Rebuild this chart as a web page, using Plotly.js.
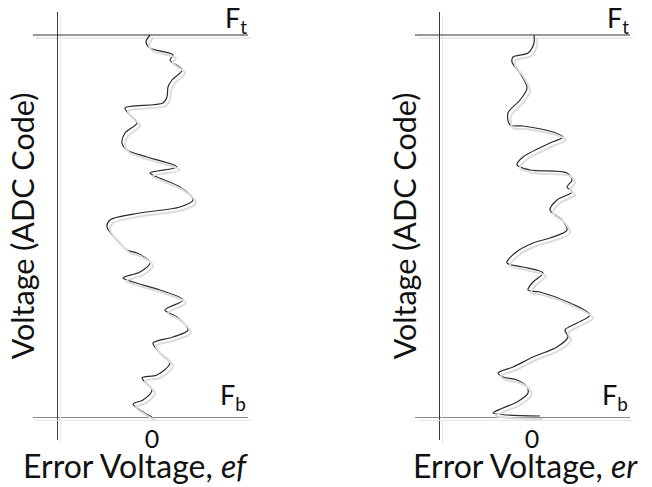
<!DOCTYPE html>
<html>
<head>
<meta charset="utf-8">
<script src="https://cdn.plot.ly/plotly-3.0.1.min.js"></script>
<style>html,body{margin:0;padding:0;background:#fff;}#chart{width:652px;height:487px;}</style>
</head>
<body>
<div id="chart"></div>
<script>
// Voltage as ADC code (0 = Fb, 382 = Ft) and error voltage (arbitrary units, 0 at centre)
const FB = 0;
const FT = 382;
const voltageEf = [382,375,369,362,357,347,337,330,320,314,309,302,294,284,274,267,260,250,244,240,230,217,210,204,197,190,177,167,164,154,145,139,135,127,117,107,100,87,80,74,64,54,42,39,27,17,13,5,0];
const errorEf   = [-2,-6,-2,21,18,30,20,16,15,11,-27,-22,-15,-27,-30,-25,-5,25,-2,5,28,41,28,-12,-42,-45,-35,-25,-15,-2,-12,-29,-19,8,31,13,25,36,21,1,8,18,5,-10,0,-9,-19,-9,0];
const voltageEr = [382,374,364,360,355,344,329,317,304,292,291,285,280,274,260,252,247,244,237,230,225,217,207,197,187,179,174,164,154,150,144,135,127,125,114,102,94,87,80,70,60,50,44,40,37,30,24,15,9,4,2,1];
const errorEr   = [2,2,-4,-19,-20,-12,-5,-12,-24,-22,-9,21,31,18,-9,-15,-2,35,40,35,40,25,18,30,35,18,1,-17,-25,-9,11,1,-4,8,38,58,45,33,36,25,1,-19,-34,-29,-15,-5,-4,-15,-29,-39,-25,8];
const zeroTick = [0];
const zeroTickLabel = ['0'];
const yTitle = 'Voltage (ADC Code)';
const xTitleEf = 'Error Voltage, <i>ef</i>';
const xTitleEr = 'Error Voltage, <i>er</i>';
const ftLabel = 'F<sub>t</sub>';
const fbLabel = 'F<sub>b</sub>';

const W = 652, H = 487;
const px = v => v / W;
const py = v => 1 - v / H;
const FONT = 'Lato, "Open Sans", sans-serif';
const SH = 3; // shadow offset px

const curve = {color: '#2b2b2b', width: 1.2, shape: 'spline', smoothing: 0.9};
const shadow = {color: '#dcdcdc', width: 2, shape: 'spline', smoothing: 0.9};

const traces = [
  {x: errorEf, y: voltageEf, xaxis: 'x3', yaxis: 'y3', mode: 'lines', line: shadow, hoverinfo: 'skip'},
  {x: errorEr, y: voltageEr, xaxis: 'x4', yaxis: 'y4', mode: 'lines', line: shadow, hoverinfo: 'skip'},
  {x: errorEf, y: voltageEf, xaxis: 'x', yaxis: 'y', mode: 'lines', line: curve},
  {x: errorEr, y: voltageEr, xaxis: 'x2', yaxis: 'y2', mode: 'lines', line: curve}
];

const yRange = [-23, 405];
const xRangeL = [-119, 96];
const xRangeR = [-117, 98];
const yDom = [py(440), py(12)];
const yDomS = [py(440 + SH), py(12 + SH)];

function xa(dom, range, pos) {
  return {domain: dom, range: range, anchor: 'free', position: pos,
    showgrid: false, zeroline: false, showline: true, linecolor: '#8a8a8a', linewidth: 1.3,
    tickmode: 'array', tickvals: zeroTick, ticktext: zeroTickLabel, ticks: '',
    tickfont: {family: FONT, size: 25, color: '#111'}, ticklabelstandoff: 0,
    fixedrange: true};
}
function ya(dom, pos, title) {
  return {domain: dom, range: yRange, anchor: 'free', position: pos,
    showgrid: false, zeroline: false, showline: true, linecolor: '#3a3a3a', linewidth: 1.2,
    showticklabels: false, ticks: '',
    title: {text: title, font: {family: FONT, size: 30.5, color: '#111'}, standoff: 12},
    fixedrange: true};
}
function shadowX(dom, range, pos) {
  return {domain: dom, range: range, anchor: 'free', position: pos, showgrid: false, zeroline: false,
    showline: true, linecolor: '#e6e6e6', linewidth: 1.3, showticklabels: false, ticks: '', fixedrange: true};
}
function shadowY(dom, pos) {
  return {domain: dom, range: yRange, anchor: 'free', position: pos, showgrid: false, zeroline: false,
    showline: true, linecolor: '#e6e6e6', linewidth: 1.2, showticklabels: false, ticks: '', fixedrange: true};
}

const xDomL = [px(33), px(248)];
const xDomR = [px(415), px(630)];
const xDomLS = [px(33 + SH), px(248 + SH)];
const xDomRS = [px(415 + SH), px(630 + SH)];

const labFont = {family: FONT, size: 27, color: '#111'};
const titleFont = {family: FONT, size: 32, color: '#111'};

const layout = {
  width: W, height: H, margin: {l: 0, r: 0, t: 0, b: 0},
  paper_bgcolor: '#fff', plot_bgcolor: 'rgba(0,0,0,0)', showlegend: false,
  xaxis: xa(xDomL, xRangeL, py(417)),
  yaxis: ya(yDom, px(57), yTitle),
  xaxis2: xa(xDomR, xRangeR, py(417)),
  yaxis2: ya(yDom, px(439), yTitle),
  xaxis3: shadowX(xDomLS, xRangeL, py(417 + SH)),
  yaxis3: shadowY(yDomS, px(57 + SH)),
  xaxis4: shadowX(xDomRS, xRangeR, py(417 + SH)),
  yaxis4: shadowY(yDomS, px(439 + SH)),
  shapes: [
    {type: 'line', xref: 'x3 domain', yref: 'y3', x0: 0, x1: 1, y0: FT, y1: FT, line: {color: '#e6e6e6', width: 1.3}, layer: 'below'},
    {type: 'line', xref: 'x4 domain', yref: 'y4', x0: 0, x1: 1, y0: FT, y1: FT, line: {color: '#e6e6e6', width: 1.3}, layer: 'below'},
    {type: 'line', xref: 'x domain', yref: 'y', x0: 0, x1: 1, y0: FT, y1: FT, line: {color: '#333', width: 1.2}},
    {type: 'line', xref: 'x2 domain', yref: 'y2', x0: 0, x1: 1, y0: FT, y1: FT, line: {color: '#333', width: 1.2}}
  ],
  annotations: [
    {xref: 'x domain', yref: 'y', x: 1.0, y: FT, text: ftLabel, showarrow: false, xanchor: 'right', yanchor: 'bottom', yshift: -4, borderpad: 0, font: labFont},
    {xref: 'x2 domain', yref: 'y2', x: 1.0, y: FT, text: ftLabel, showarrow: false, xanchor: 'right', yanchor: 'bottom', yshift: -4, borderpad: 0, font: labFont},
    {xref: 'x domain', yref: 'y', x: 1.0, y: FB, text: fbLabel, showarrow: false, xanchor: 'right', yanchor: 'bottom', yshift: 0, font: labFont},
    {xref: 'x2 domain', yref: 'y2', x: 1.0, y: FB, text: fbLabel, showarrow: false, xanchor: 'right', yanchor: 'bottom', yshift: 0, font: labFont},
    {xref: 'paper', yref: 'paper', x: px(135), y: py(465), text: xTitleEf, showarrow: false, xanchor: 'center', yanchor: 'middle', borderpad: 0, font: titleFont},
    {xref: 'paper', yref: 'paper', x: px(525), y: py(465), text: xTitleEr, showarrow: false, xanchor: 'center', yanchor: 'middle', borderpad: 0, font: titleFont}
  ]
};

Plotly.newPlot('chart', traces, layout, {displayModeBar: false, staticPlot: true});
</script>
</body>
</html>
